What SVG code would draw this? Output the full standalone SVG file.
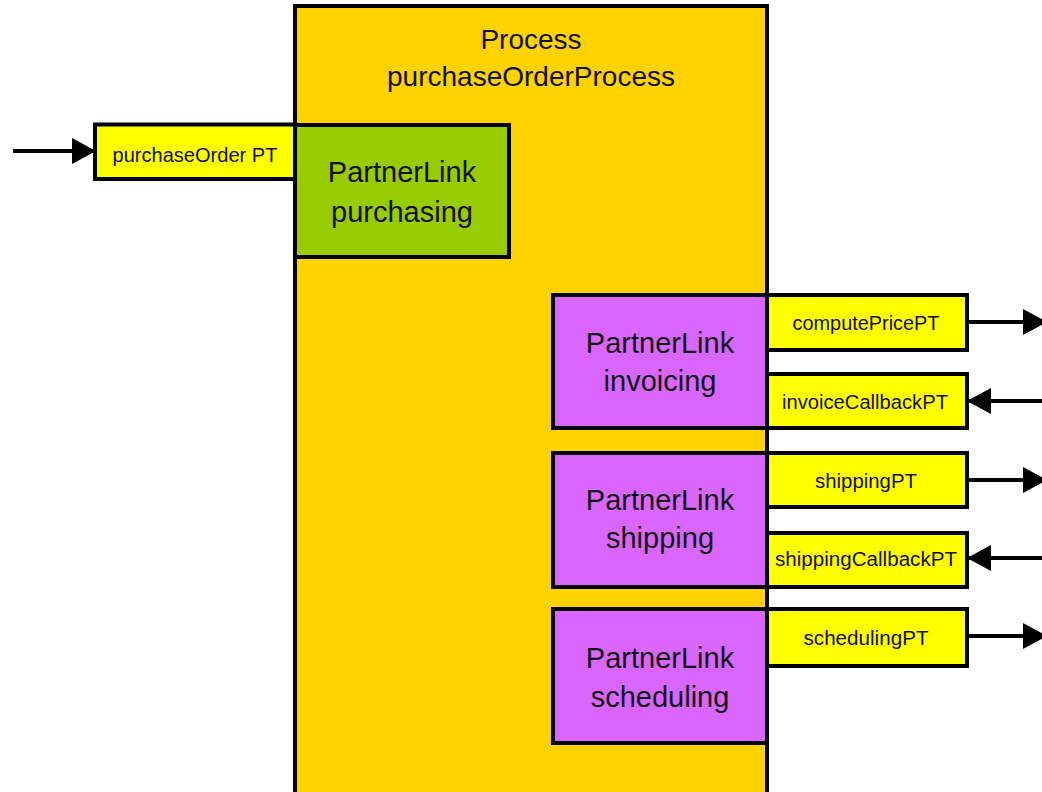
<svg xmlns="http://www.w3.org/2000/svg" width="1042" height="792" viewBox="0 0 1042 792">
  <style>
    .box { stroke: #000; stroke-width: 4; }
    .process { fill: #FFD200; }
    .port { fill: #FFFF00; }
    .pl-green { fill: #99CC00; }
    .pl-purple { fill: #D966FF; }
    .title { font-family: "Liberation Sans", Arial, sans-serif; font-size: 28px; fill: #111; text-anchor: middle; }
    .pl { font-family: "Liberation Sans", Arial, sans-serif; font-size: 29px; fill: #111; text-anchor: middle; }
    .pt { font-family: "Liberation Sans", Arial, sans-serif; font-size: 20px; fill: #111; text-anchor: middle; }
    .wire { stroke: #000; stroke-width: 4; fill: none; }
  </style>
  <defs>
    <marker id="head" markerUnits="userSpaceOnUse" markerWidth="24" markerHeight="26" refX="23" refY="13" orient="auto">
      <path d="M0,0 L24,13 L0,26 Z" fill="#000"/>
    </marker>
  </defs>
  <rect width="1042" height="792" fill="#fff"/>

  <!-- process container -->
  <g id="process">
    <rect class="box process" x="295" y="6" width="472" height="800"/>
    <text class="title" x="531" y="49">Process</text>
    <text class="title" x="531" y="86">purchaseOrderProcess</text>
  </g>

  <!-- port types -->
  <g id="port-purchaseOrder">
    <rect class="box port" x="95" y="124.5" width="200" height="54.5"/>
    <text class="pt" x="195" y="162" textLength="165" lengthAdjust="spacingAndGlyphs">purchaseOrder PT</text>
  </g>
  <g id="port-computePrice">
    <rect class="box port" x="767" y="295" width="200" height="55"/>
    <text class="pt" x="866" y="330" textLength="147" lengthAdjust="spacingAndGlyphs">computePricePT</text>
  </g>
  <g id="port-invoiceCallback">
    <rect class="box port" x="767" y="374" width="200" height="54"/>
    <text class="pt" x="865" y="409" textLength="166" lengthAdjust="spacingAndGlyphs">invoiceCallbackPT</text>
  </g>
  <g id="port-shipping">
    <rect class="box port" x="767" y="453" width="200" height="54"/>
    <text class="pt" x="866" y="488" textLength="102" lengthAdjust="spacingAndGlyphs">shippingPT</text>
  </g>
  <g id="port-shippingCallback">
    <rect class="box port" x="767" y="533" width="200" height="54"/>
    <text class="pt" x="866" y="566" textLength="182" lengthAdjust="spacingAndGlyphs">shippingCallbackPT</text>
  </g>
  <g id="port-scheduling">
    <rect class="box port" x="767" y="609" width="200" height="57"/>
    <text class="pt" x="866" y="645" textLength="125" lengthAdjust="spacingAndGlyphs">schedulingPT</text>
  </g>

  <!-- partner links -->
  <g id="pl-purchasing">
    <rect class="box pl-green" x="295" y="125" width="214" height="132"/>
    <text class="pl" x="402" y="182">PartnerLink</text>
    <text class="pl" x="402" y="222">purchasing</text>
  </g>
  <g id="pl-invoicing">
    <rect class="box pl-purple" x="553" y="295" width="214" height="133"/>
    <text class="pl" x="660" y="353">PartnerLink</text>
    <text class="pl" x="660" y="391">invoicing</text>
  </g>
  <g id="pl-shipping">
    <rect class="box pl-purple" x="553" y="453" width="214" height="134"/>
    <text class="pl" x="660" y="510">PartnerLink</text>
    <text class="pl" x="660" y="548">shipping</text>
  </g>
  <g id="pl-scheduling">
    <rect class="box pl-purple" x="553" y="609" width="214" height="134"/>
    <text class="pl" x="660" y="668">PartnerLink</text>
    <text class="pl" x="660" y="707">scheduling</text>
  </g>

  <!-- message flows -->
  <g id="connectors">
    <line class="wire" x1="13" y1="151" x2="95" y2="151" marker-end="url(#head)"/>
    <line class="wire" x1="967" y1="322" x2="1046" y2="322" marker-end="url(#head)"/>
    <line class="wire" x1="1042" y1="401" x2="968" y2="401" marker-end="url(#head)"/>
    <line class="wire" x1="967" y1="480" x2="1046" y2="480" marker-end="url(#head)"/>
    <line class="wire" x1="1042" y1="558" x2="968" y2="558" marker-end="url(#head)"/>
    <line class="wire" x1="967" y1="636" x2="1046" y2="636" marker-end="url(#head)"/>
  </g>
</svg>
